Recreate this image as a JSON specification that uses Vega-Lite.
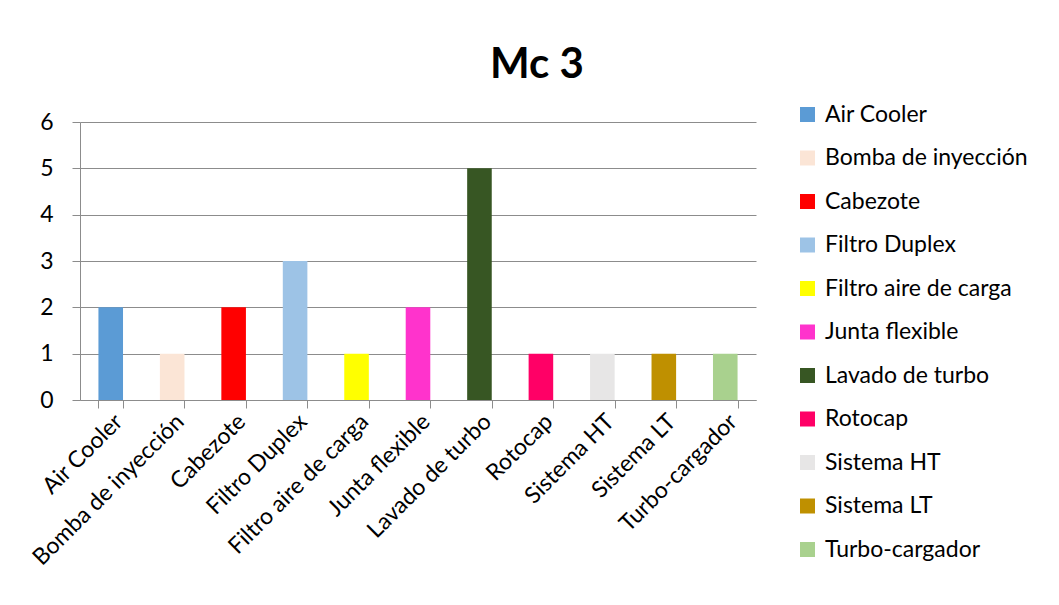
{
  "$schema": "https://vega.github.io/schema/vega-lite/v6.json",
  "autosize": {"type": "none"},
  "width": 676,
  "height": 278,
  "padding": {"left": 80, "top": 122, "right": 303, "bottom": 205},
  "background": "white",
  "title": {
    "text": "Mc 3",
    "font": "Lato",
    "fontSize": 42,
    "fontWeight": "bold",
    "color": "#000000",
    "anchor": "middle",
    "dx": 119,
    "dy": 26,
    "offset": 42
  },
  "data": {
    "values": [
      {"item": "Air Cooler", "count": 2},
      {"item": "Bomba de inyección", "count": 1},
      {"item": "Cabezote", "count": 2},
      {"item": "Filtro Duplex", "count": 3},
      {"item": "Filtro aire de carga", "count": 1},
      {"item": "Junta flexible", "count": 2},
      {"item": "Lavado de turbo", "count": 5},
      {"item": "Rotocap", "count": 1},
      {"item": "Sistema HT", "count": 1},
      {"item": "Sistema LT", "count": 1},
      {"item": "Turbo-cargador", "count": 1}
    ]
  },
  "mark": {"type": "bar"},
  "encoding": {
    "x": {
      "field": "item",
      "type": "nominal",
      "sort": null,
      "scale": {"paddingInner": 0.6, "paddingOuter": 0.3},
      "axis": {
        "title": null,
        "labelAngle": -45,
        "labelAlign": "right",
        "labelBaseline": "top",
        "labelFont": "Lato",
        "labelFontSize": 23,
        "labelColor": "#000000",
        "labelPadding": 2,
        "labelLimit": 400,
        "labelOverlap": false,
        "tickBand": "extent",
        "tickSize": 8,
        "tickColor": "#8c8c8c",
        "domainColor": "#8c8c8c",
        "grid": false
      }
    },
    "y": {
      "field": "count",
      "type": "quantitative",
      "scale": {"domain": [0, 6], "nice": false},
      "axis": {
        "title": null,
        "values": [0, 1, 2, 3, 4, 5, 6],
        "labelFont": "Lato",
        "labelFontSize": 23,
        "labelColor": "#000000",
        "labelPadding": 19,
        "tickSize": 8,
        "tickColor": "#8c8c8c",
        "domainColor": "#8c8c8c",
        "gridColor": "#8c8c8c",
        "grid": true
      }
    },
    "color": {
      "field": "item",
      "type": "nominal",
      "sort": null,
      "scale": {
        "domain": ["Air Cooler", "Bomba de inyección", "Cabezote", "Filtro Duplex", "Filtro aire de carga", "Junta flexible", "Lavado de turbo", "Rotocap", "Sistema HT", "Sistema LT", "Turbo-cargador"],
        "range": ["#5B9BD5", "#FBE5D6", "#FF0000", "#9DC3E6", "#FFFF00", "#FF33CC", "#375623", "#FF0066", "#E7E6E6", "#BF9000", "#A9D18E"]
      },
      "legend": {
        "title": null,
        "orient": "none",
        "legendX": 716,
        "legendY": -19,
        "symbolType": "square",
        "symbolSize": 225,
        "symbolStrokeWidth": 0,
        "labelFont": "Lato",
        "labelFontSize": 23,
        "labelColor": "#000000",
        "labelOffset": 6,
        "rowPadding": 19.5,
        "labelLimit": 300
      }
    }
  },
  "config": {
    "view": {"stroke": null}
  }
}
